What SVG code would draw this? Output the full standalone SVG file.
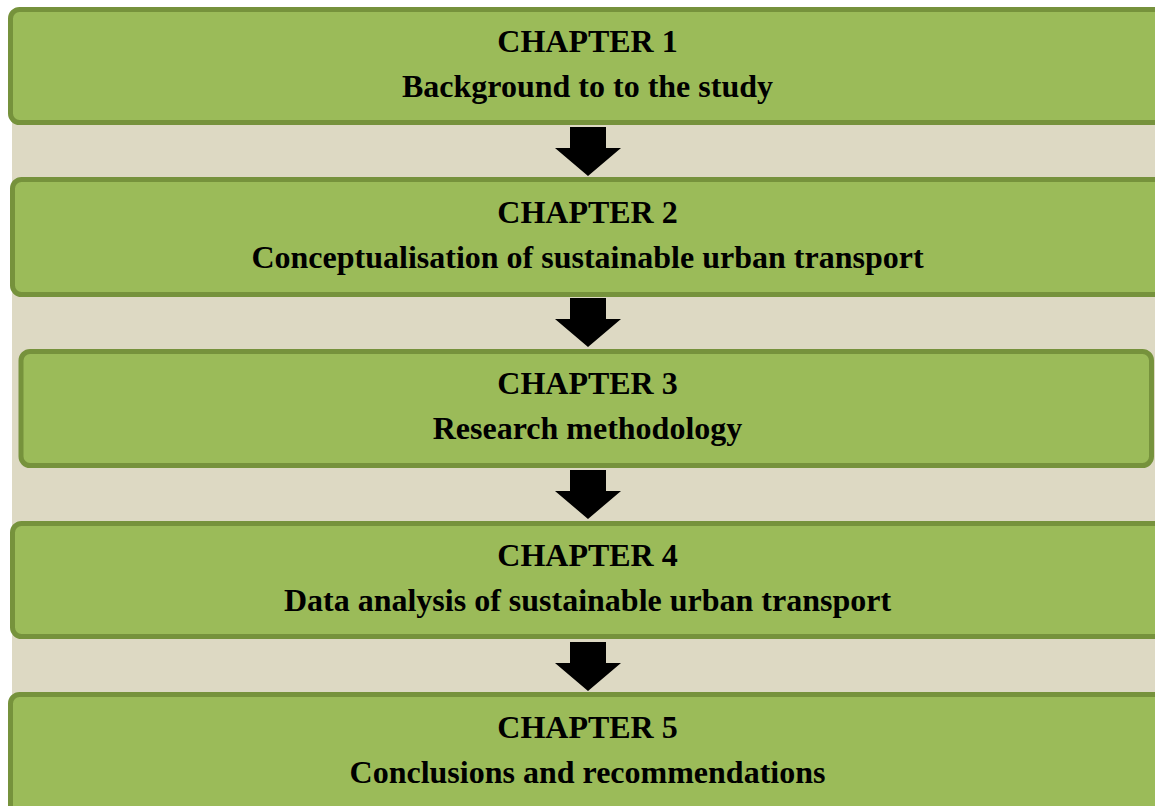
<svg xmlns="http://www.w3.org/2000/svg" width="1155" height="806" viewBox="0 0 1155 806">
  <defs>
    <style>
      .box { fill: #9BBB59; stroke: #76923C; stroke-width: 5; }
      .t { font-family: "Liberation Serif", "Times New Roman", serif; font-weight: bold; font-size: 32px; fill: #000; text-anchor: middle; }
      .arrow { fill: #000; }
    </style>
    <!-- block arrow pointing down, tip at origin -->
    <path id="down" d="M-18,-49 H18 V-28 H33 L0,0 L-33,-28 H-18 Z"/>
  </defs>

  <rect x="0" y="0" width="1155" height="806" fill="#ffffff"/>
  <rect x="12" y="10" width="1143" height="796" fill="#DDD9C3"/>

  <g id="connectors" class="arrow">
    <use href="#down" x="588" y="176"/>
    <use href="#down" x="588" y="347"/>
    <use href="#down" x="588" y="519"/>
    <use href="#down" x="588" y="691"/>
  </g>

  <g id="chapter1">
    <rect class="box" x="10.5" y="9.5" width="1160" height="113" rx="9"/>
    <text class="t" x="587.5" y="52">CHAPTER 1</text>
    <text class="t" x="587.5" y="97">Background to to the study</text>
  </g>

  <g id="chapter2">
    <rect class="box" x="12.5" y="179.5" width="1160" height="115" rx="9"/>
    <text class="t" x="587.5" y="223">CHAPTER 2</text>
    <text class="t" x="587.5" y="268">Conceptualisation of sustainable urban transport</text>
  </g>

  <g id="chapter3">
    <rect class="box" x="21" y="351.5" width="1130.5" height="114" rx="9"/>
    <text class="t" x="587.5" y="394">CHAPTER 3</text>
    <text class="t" x="587.5" y="439">Research methodology</text>
  </g>

  <g id="chapter4">
    <rect class="box" x="12.5" y="523.5" width="1160" height="113" rx="9"/>
    <text class="t" x="587.5" y="566">CHAPTER 4</text>
    <text class="t" x="587.5" y="611">Data analysis of sustainable urban transport</text>
  </g>

  <g id="chapter5">
    <rect class="box" x="10.5" y="694.5" width="1160" height="140" rx="9"/>
    <text class="t" x="587.5" y="738">CHAPTER 5</text>
    <text class="t" x="587.5" y="783">Conclusions and recommendations</text>
  </g>
</svg>
